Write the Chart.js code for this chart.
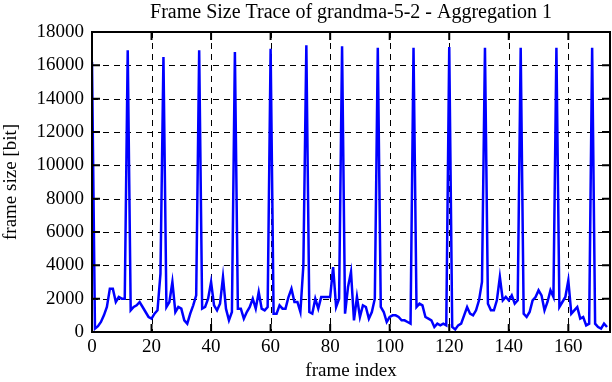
<!DOCTYPE html>
<html>
<head>
<meta charset="utf-8">
<script src="https://cdn.jsdelivr.net/npm/chart.js@4/dist/chart.umd.min.js"></script>
<style>
  html, body { margin: 0; padding: 0; background: #fff; }
  #wrap { width: 612px; height: 382px; }
</style>
</head>
<body>
<div id="wrap"><canvas id="myChart" width="612" height="382"></canvas></div>
<script>
const chartTitle = 'Frame Size Trace of grandma-5-2 - Aggregation 1';
const xTitle = 'frame index';
const yTitle = 'frame size [bit]';

// frame sizes in bit, one per frame (index 0..173)
const frameSizes = [
    16200, 200, 350, 600, 1000, 1500, 2600, 2600, 1800, 2100, 2000, 2000,
    16900, 1300, 1500, 1600, 1800, 1500, 1200, 900, 800, 1100, 1300, 3500,
    16500, 1500, 1800, 3000, 1200, 1500, 1400, 700, 500, 1100, 1600, 2200,
    16900, 1400, 1500, 2000, 3000, 1600, 1300, 1700, 3300, 1400, 700, 1200,
    16800, 1400, 1400, 800, 1200, 1500, 2000, 1400, 2400, 1400, 1300, 1500,
    17000, 1100, 1100, 1600, 1400, 1400, 2100, 2600, 1800, 1800, 1200, 4000,
    17200, 1200, 1100, 2000, 1400, 2100, 2100, 2100, 2100, 3900, 1500, 2000,
    17150, 1100, 2700, 3600, 700, 2100, 900, 1600, 1500, 800, 1200, 2000,
    17050, 1500, 1200, 600, 900, 1000, 1000, 900, 700, 700, 600, 500,
    17050, 1500, 1700, 1600, 900, 800, 700, 300, 500, 400, 500, 400,
    17100, 300, 150, 400, 500, 1000, 1500, 1100, 1000, 1300, 1900, 3000,
    17050, 1700, 1300, 1300, 1900, 3300, 1900, 2100, 1900, 2200, 1700, 1900,
    17050, 1100, 900, 1200, 1900, 2100, 2500, 2200, 1300, 1800, 2500, 2100,
    17050, 1500, 1800, 2100, 3100, 1100, 1300, 1500, 800, 900, 400, 500,
    17050, 500, 300, 200, 500, 300
];

const xTicks = [0, 20, 40, 60, 80, 100, 120, 140, 160];
const yTicks = [0, 2000, 4000, 6000, 8000, 10000, 12000, 14000, 16000, 18000];

const serif = '"Liberation Serif", "DejaVu Serif", serif';

// dashed grid under the line, solid frame and inward ticks on top
const framePlugin = {
    id: 'framePlugin',
    beforeDatasetsDraw(chart) {
        const { ctx, chartArea: a, scales } = chart;
        ctx.save();
        ctx.strokeStyle = '#000';
        ctx.lineWidth = 1;
        ctx.setLineDash([6, 5]);
        xTicks.forEach(t => {
            if (t === 0) return;
            const x = Math.round(scales.x.getPixelForValue(t)) + 0.5;
            ctx.beginPath();
            ctx.moveTo(x, a.top);
            ctx.lineTo(x, a.bottom);
            ctx.stroke();
        });
        yTicks.forEach(t => {
            if (t === 0 || t === 18000) return;
            const y = Math.round(scales.y.getPixelForValue(t)) + 0.5;
            ctx.beginPath();
            ctx.moveTo(a.left, y);
            ctx.lineTo(a.right, y);
            ctx.stroke();
        });
        ctx.restore();
    },
    afterDraw(chart) {
        const { ctx, chartArea: a, scales } = chart;
        ctx.save();
        ctx.strokeStyle = '#000';
        ctx.lineWidth = 2;
        ctx.setLineDash([]);
        ctx.strokeRect(a.left, a.top, a.right - a.left, a.bottom - a.top);
        const len = 8;
        ctx.beginPath();
        xTicks.forEach(t => {
            const x = scales.x.getPixelForValue(t);
            ctx.moveTo(x, a.bottom);
            ctx.lineTo(x, a.bottom - len);
            ctx.moveTo(x, a.top);
            ctx.lineTo(x, a.top + len);
        });
        yTicks.forEach(t => {
            const y = scales.y.getPixelForValue(t);
            ctx.moveTo(a.left, y);
            ctx.lineTo(a.left + len, y);
            ctx.moveTo(a.right, y);
            ctx.lineTo(a.right - len, y);
        });
        ctx.stroke();

        ctx.fillStyle = '#000';
        ctx.font = '20px ' + serif;
        ctx.textAlign = 'center';
        ctx.textBaseline = 'middle';
        ctx.fillText(chartTitle, (a.left + a.right) / 2, 13);
        ctx.restore();
    }
};

function initChart() {
    try {
        const ctx = document.getElementById('myChart').getContext('2d');
        new Chart(ctx, {
            type: 'line',
            data: {
                datasets: [{
                    data: frameSizes.map((v, i) => ({ x: i, y: v })),
                    borderColor: '#0000ff',
                    borderWidth: 2.5,
                    pointRadius: 0,
                    tension: 0,
                    fill: false
                }]
            },
            options: {
                responsive: false,
                animation: false,
                layout: { padding: { top: 32, right: 2, left: 0, bottom: 0 } },
                plugins: {
                    legend: { display: false },
                    title: { display: false },
                    tooltip: { enabled: false }
                },
                scales: {
                    x: {
                        type: 'linear',
                        min: 0,
                        max: 174,
                        afterFit(scale) { scale.height = 50; },
                        afterBuildTicks(scale) { scale.ticks = xTicks.map(v => ({ value: v })); },
                        grid: { display: false, drawTicks: false },
                        border: { display: false },
                        ticks: {
                            color: '#000',
                            font: { family: serif, size: 19 },
                            padding: 4,
                            maxRotation: 0,
                            autoSkip: false,
                            callback: v => String(v)
                        },
                        title: {
                            display: true,
                            text: xTitle,
                            color: '#000',
                            font: { family: serif, size: 19 },
                            padding: { top: 0, bottom: 0 }
                        }
                    },
                    y: {
                        min: 0,
                        max: 18000,
                        afterFit(scale) { scale.width = 92; },
                        afterBuildTicks(scale) { scale.ticks = yTicks.map(v => ({ value: v })); },
                        grid: { display: false, drawTicks: false },
                        border: { display: false },
                        ticks: {
                            color: '#000',
                            font: { family: serif, size: 19 },
                            padding: 8,
                            autoSkip: false,
                            callback: v => String(v)
                        },
                        title: {
                            display: true,
                            text: yTitle,
                            color: '#000',
                            font: { family: serif, size: 19 },
                            padding: { top: 0, bottom: 0 }
                        }
                    }
                }
            },
            plugins: [framePlugin]
        });
    } catch (error) {
        console.error('Error in initChart:', error);
    }
}

window.addEventListener('DOMContentLoaded', initChart);
</script>
</body>
</html>
